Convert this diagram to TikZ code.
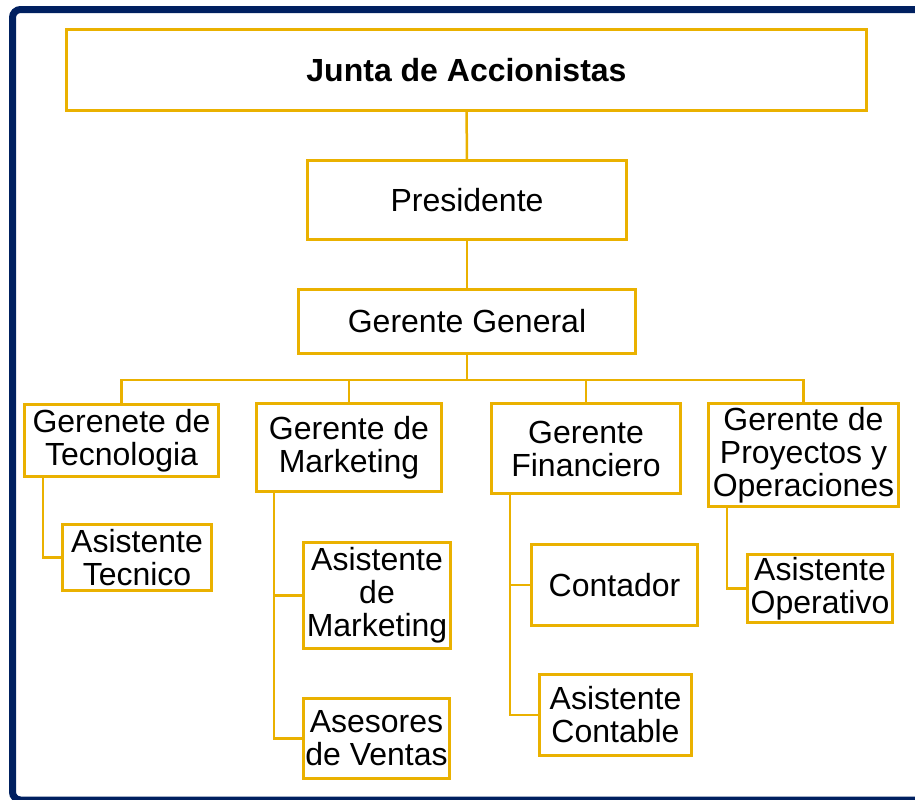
\documentclass[tikz,border=0pt]{standalone}
\usepackage{fontspec}
\setmainfont{Liberation Sans}
\definecolor{oro}{RGB}{234,177,0}
\definecolor{marino}{RGB}{0,32,96}
\tikzset{
  cargo/.style={rectangle,draw=oro,line width=1.5pt,align=center,inner sep=0pt,
    font=\fontsize{16}{16.5}\selectfont},
  enlace/.style={draw=oro,line width=1.25pt},
}
\begin{document}
\begin{tikzpicture}[x=0.5pt,y=-0.5pt]
\useasboundingbox (0,0) rectangle (915,799);
\clip (0,0) rectangle (915,799);
% marco
\draw[marino,line width=3.5pt,rounded corners=4pt] (12.5,9.5) rectangle (940,800);
% direccion
\node[cargo,minimum width=400pt,minimum height=40.5pt] (junta) at (466.5,70) {\bfseries Junta de Accionistas};
\node[cargo,minimum width=159.5pt,minimum height=39.5pt] (pres) at (467,200) {Presidente};
\node[cargo,minimum width=168.5pt,minimum height=32pt] (gg) at (467,321.5) {Gerente General};
% gerencias
\node[cargo,minimum width=97pt,minimum height=36pt] (tec) at (121.5,440.5) {Gerenete de\\Tecnologia};
\node[cargo,minimum width=92.5pt,minimum height=44pt] (mkt) at (349,447.5) {Gerente de\\Marketing};
\node[cargo,minimum width=94.5pt,minimum height=45pt] (fin) at (586,448.5) {Gerente\\Financiero};
\node[cargo,minimum width=95pt,minimum height=51.5pt] (pro) at (803.5,455) {Gerente de\\Proyectos y\\Operaciones};
% asistentes
\node[cargo,minimum width=74.5pt,minimum height=33pt] (atec) at (137,557.5) {Asistente\\Tecnico};
\node[cargo,minimum width=73.5pt,minimum height=53pt] (amkt) at (377,595.5) {Asistente\\de\\Marketing};
\node[cargo,minimum width=73pt,minimum height=40pt] (ase) at (376.5,738.5) {Asesores\\de Ventas};
\node[cargo,minimum width=83pt,minimum height=40.5pt] (cont) at (614.5,585) {Contador};
\node[cargo,minimum width=76pt,minimum height=40.5pt] (acont) at (615.5,715) {Asistente\\Contable};
\node[cargo,minimum width=72.5pt,minimum height=34pt] (aop) at (820,588.5) {Asistente\\Operativo};
% enlaces
\coordinate (bus) at (467,380);
\draw[enlace] (junta) -- (pres);
\draw[enlace] (pres) -- (gg);
\draw[enlace] (gg.south) -- (bus);
\draw[enlace] (tec.north) |- (bus);
\draw[enlace] (mkt.north) |- (bus);
\draw[enlace] (fin.north) |- (bus);
\draw[enlace] (pro.north) |- (bus);
\draw[enlace] ([xshift=10pt]tec.south west) |- (atec.west);
\draw[enlace] ([xshift=9.5pt]mkt.south west) |- (amkt.west);
\draw[enlace] ([xshift=9.5pt]mkt.south west) |- (ase.west);
\draw[enlace] ([xshift=10pt]fin.south west) |- (cont.west);
\draw[enlace] ([xshift=10pt]fin.south west) |- (acont.west);
\draw[enlace] ([xshift=10pt]pro.south west) |- (aop.west);
\end{tikzpicture}
\end{document}
